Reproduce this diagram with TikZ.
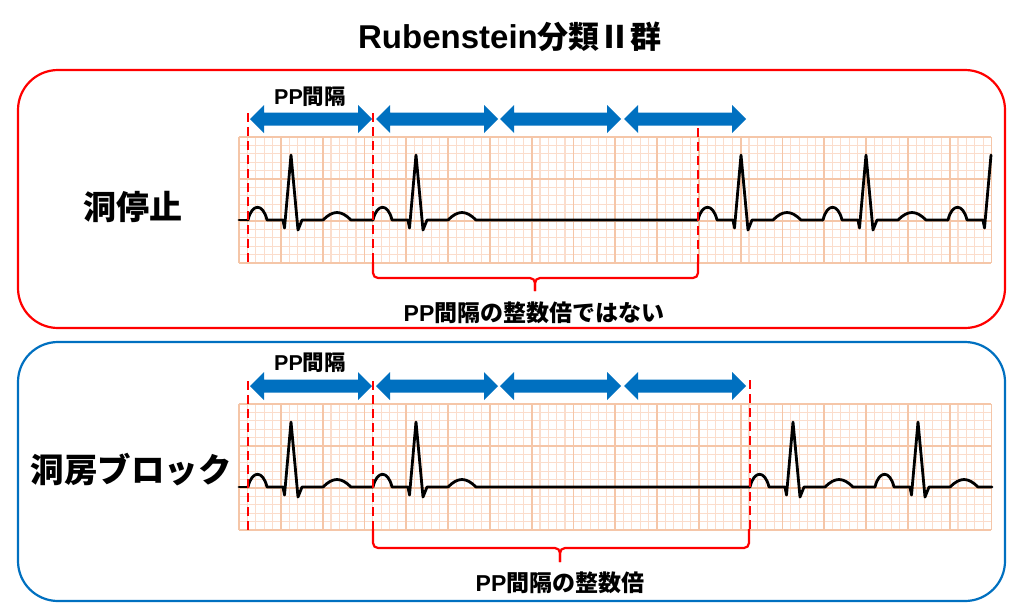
\documentclass[tikz,border=0pt]{standalone}
\usepackage{fontspec}
\newfontfamily\jp{Noto Sans CJK JP}
\newfontfamily\lat{Liberation Sans}
\definecolor{arrblue}{HTML}{0070C0}
\definecolor{boxred}{HTML}{FF0000}
\definecolor{gridmaj}{HTML}{F5C6A8}
\definecolor{gridmin}{HTML}{FBDDCC}
\tikzset{
  ecg/.style={line width=2.8pt, black, line join=round, line cap=round},
  minorline/.style={gridmin, line width=1.1pt},
  majorline/.style={gridmaj, line width=1.8pt},
  reddash/.style={boxred, line width=2.8pt, dash pattern=on 9pt off 5pt},
  bracketline/.style={boxred, line width=2.2pt, rounded corners=5pt},
  lbl/.style={inner sep=0pt, font=\jp\bfseries},
}
\newcommand\ecggrid[1]{%
  \foreach \i in {0,...,90} \draw[minorline] ({239+\i*8.36},#1) -- ({239+\i*8.36},{#1+126});
  \foreach \j in {0,...,15} \draw[minorline] (239,{#1+\j*8.4}) -- (991.4,{#1+\j*8.4});
  \foreach \i in {0,...,18} \draw[majorline] ({239+\i*41.8},#1) -- ({239+\i*41.8},{#1+126});
  \foreach \j in {0,...,3} \draw[majorline] (239,{#1+\j*42}) -- (991.4,{#1+\j*42});
}
\newcommand\ecgbeat[3]{%
  \draw[ecg] (#1,#2) .. controls (#1+4,#2-17) and (#1+15,#2-17) .. (#1+19,#2)
    -- (#1+35,#2) -- (#1+36.5,#2+8) -- (#1+43,#2-65) -- (#1+50,#2+10) -- (#1+54,#2)
    -- (#1+75,#2) .. controls (#1+85,#2-10) and (#1+93,#2-10) .. (#1+103,#2) -- (#3,#2);
}
\newcommand\dblarr[3]{%
  \fill[arrblue] (#1,#3) -- (#1+14,#3-14) -- (#1+14,#3-6.5) -- (#2-14,#3-6.5) -- (#2-14,#3-14)
    -- (#2,#3) -- (#2-14,#3+14) -- (#2-14,#3+6.5) -- (#1+14,#3+6.5) -- (#1+14,#3+14) -- cycle;
}
\begin{document}
\begin{tikzpicture}[x=1pt,y=-1pt]
\fill[white] (0,0) rectangle (1024,611);
\useasboundingbox (0,0) rectangle (1024,611);

% title
\node[lbl, font=\bfseries] (title) at (510,37) {{\lat\fontsize{33}{38}\selectfont Rubenstein}{\jp\fontsize{31}{38}\selectfont 分類Ⅱ群}};

% boxes
\draw[boxred, line width=2.2pt, rounded corners=40pt] (18,70) rectangle (1005,328);
\draw[arrblue, line width=2.2pt, rounded corners=40pt] (18,342) rectangle (1005,601);

% ---- top panel ----
\ecggrid{137}
\draw[ecg] (239,220) -- (248,220);
\ecgbeat{248}{220}{373}
\ecgbeat{373}{220}{698}
\ecgbeat{698}{220}{823}
\ecgbeat{823}{220}{948}
\draw[ecg] (948,220) .. controls (952,203) and (963,203) .. (967,220) -- (983,220) -- (984.5,228) -- (991,155);

\draw[reddash] (248,113) -- (248,263);
\draw[reddash] (373,113) -- (373,263);
\draw[reddash] (698,128) -- (698,263);
\draw[bracketline] (373,262) |- (535,278) -- (535,291);
\draw[bracketline] (698,262) |- (535,278) -- (535,291);

\dblarr{250}{372}{119}
\dblarr{376}{498}{119}
\dblarr{500}{621}{119}
\dblarr{624}{746}{119}

\node[lbl] (pp1) at (310,97) {{\lat\fontsize{21.5}{26}\selectfont PP}{\fontsize{21.5}{26}\selectfont 間隔}};
\node[lbl] (l1) at (133,207) {\fontsize{33}{38}\selectfont 洞停止};
\node[lbl] (n1) at (534,313) {{\lat\bfseries\fontsize{23}{28}\selectfont PP}{\fontsize{23}{28}\selectfont 間隔の整数倍ではない}};

% ---- bottom panel ----
\ecggrid{404}
\draw[ecg] (239,487) -- (248,487);
\ecgbeat{248}{487}{373}
\ecgbeat{373}{487}{750}
\ecgbeat{750}{487}{875}
\ecgbeat{875}{487}{992}

\draw[reddash] (248,381) -- (248,530);
\draw[reddash] (373,381) -- (373,530);
\draw[reddash] (750,380) -- (750,530);
\draw[bracketline] (373,529) |- (560,548) -- (560,562);
\draw[bracketline] (749,529) |- (560,548) -- (560,562);

\dblarr{250}{372}{386}
\dblarr{376}{498}{386}
\dblarr{500}{621}{386}
\dblarr{624}{746}{386}

\node[lbl] (pp2) at (310,363) {{\lat\fontsize{21.5}{26}\selectfont PP}{\fontsize{21.5}{26}\selectfont 間隔}};
\node[lbl] (l2) at (131,470) {\fontsize{33.5}{38}\selectfont 洞房ブロック};
\node[lbl] (n2) at (560,583) {{\lat\bfseries\fontsize{23}{28}\selectfont PP}{\fontsize{23}{28}\selectfont 間隔の整数倍}};
\end{tikzpicture}
\end{document}
